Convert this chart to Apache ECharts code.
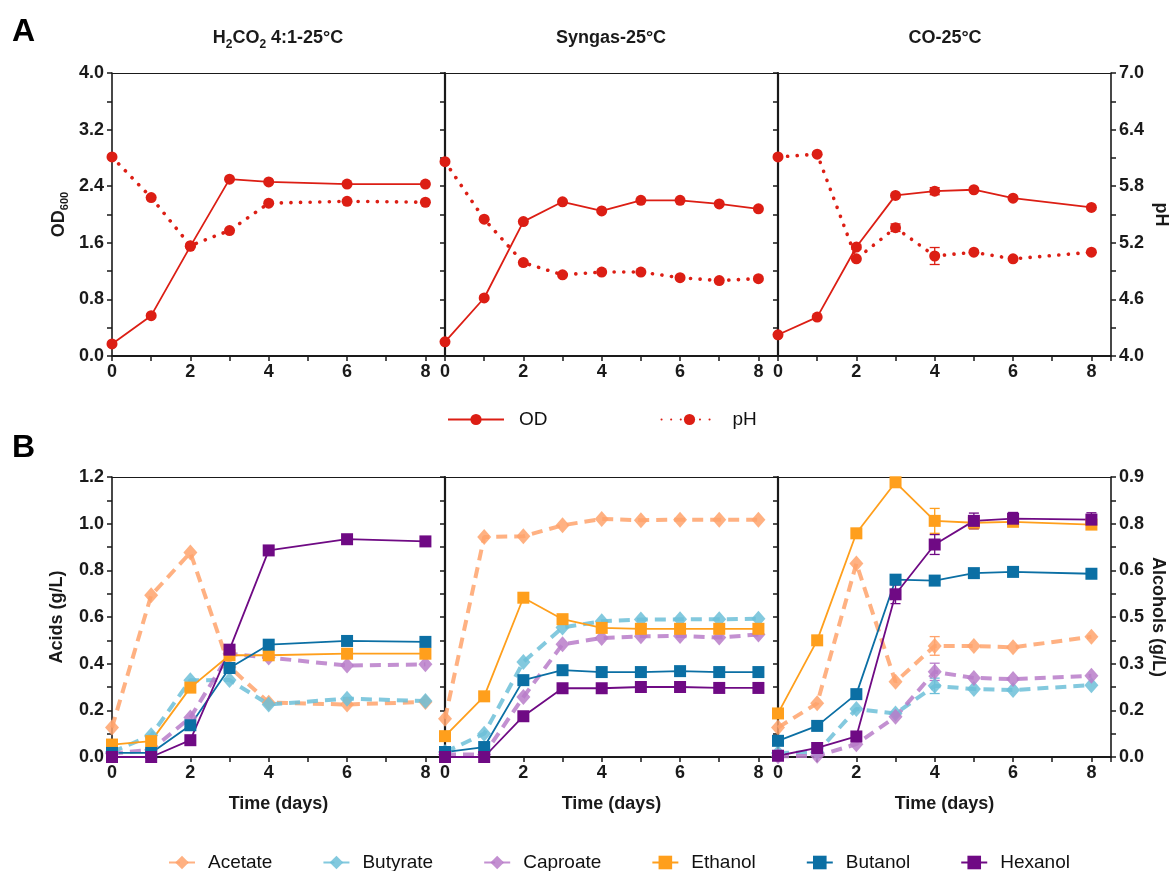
<!DOCTYPE html>
<html><head><meta charset="utf-8">
<script src="https://cdn.jsdelivr.net/npm/echarts@6/dist/echarts.min.js"></script>
<style>html,body{margin:0;padding:0;background:#fff;overflow:hidden}#c{width:1171px;height:871px}</style>
</head><body><div id="c"></div>
<script>
// ---------- DATA ----------
const daysH2 = [0,1,2,3,4,6,8];
const daysSyn = [0,1,2,3,4,5,6,7,8];
const daysCO = [0,1,2,3,4,5,6,8];

const panelTitles = ['H2CO2 4:1-25°C', 'Syngas-25°C', 'CO-25°C'];
const odTicks = [0, 0.8, 1.6, 2.4, 3.2, 4.0];
const phTicks = [4.0, 4.6, 5.2, 5.8, 6.4, 7.0];

// Panel A
const odH2 = [0.17, 0.57, 1.55, 2.50, 2.46, 2.43, 2.43];
const phH2 = [6.11, 5.68, 5.17, 5.33, 5.62, 5.64, 5.63];
const odSyn = [0.20, 0.82, 1.90, 2.18, 2.05, 2.20, 2.20, 2.15, 2.08];
const phSyn = [6.06, 5.45, 4.99, 4.86, 4.89, 4.89, 4.83, 4.80, 4.82];
const odCO = [0.30, 0.55, 1.54, 2.27, 2.33, 2.35, 2.23, 2.10];
const phCO = [6.11, 6.14, 5.03, 5.36, 5.06, 5.10, 5.03, 5.10];
const errOdCO = [0, 0, 0.03, 0, 0.05, 0, 0, 0];
const errPhCO = [0, 0, 0, 0.04, 0.09, 0, 0, 0];

// Panel B - acids (g/L, left axis)
const acetateH2 = [0.126, 0.693, 0.876, 0.386, 0.233, 0.225, 0.236];
const butyrateH2 = [0.021, 0.093, 0.329, 0.330, 0.225, 0.250, 0.240];
const caproateH2 = [0.015, 0.031, 0.169, 0.443, 0.426, 0.392, 0.397];
const acetateSyn = [0.164, 0.943, 0.946, 0.993, 1.020, 1.015, 1.017, 1.017, 1.017];
const butyrateSyn = [0.021, 0.100, 0.407, 0.555, 0.582, 0.589, 0.590, 0.590, 0.593];
const caproateSyn = [0.011, 0.011, 0.257, 0.483, 0.510, 0.517, 0.519, 0.512, 0.525];
const acetateCO = [0.126, 0.230, 0.829, 0.322, 0.476, 0.476, 0.470, 0.515];
const butyrateCO = [0.017, 0.020, 0.206, 0.186, 0.305, 0.291, 0.287, 0.308];
const caproateCO = [0.003, 0.005, 0.055, 0.172, 0.365, 0.339, 0.334, 0.348];
// Panel B - alcohols (g/L, right axis)
const ethanolH2 = [0.040, 0.051, 0.223, 0.327, 0.327, 0.332, 0.332];
const butanolH2 = [0.013, 0.013, 0.102, 0.286, 0.361, 0.373, 0.370];
const hexanolH2 = [0.000, 0.000, 0.054, 0.345, 0.664, 0.700, 0.693];
const ethanolSyn = [0.067, 0.195, 0.512, 0.443, 0.415, 0.412, 0.412, 0.412, 0.412];
const butanolSyn = [0.016, 0.032, 0.247, 0.279, 0.273, 0.273, 0.276, 0.273, 0.273];
const hexanolSyn = [0.000, 0.000, 0.131, 0.221, 0.221, 0.225, 0.225, 0.222, 0.222];
const ethanolCO = [0.140, 0.375, 0.719, 0.883, 0.759, 0.753, 0.756, 0.747];
const butanolCO = [0.052, 0.100, 0.202, 0.570, 0.567, 0.591, 0.595, 0.589];
const hexanolCO = [0.004, 0.029, 0.066, 0.523, 0.683, 0.759, 0.766, 0.763];
// error bars (SD)
const errHexH2 = [0, 0, 0, 0, 0, 0.010, 0.011];
const errAceCO = [0, 0, 0, 0, 0.040, 0, 0, 0];
const errButyCO = [0, 0, 0, 0, 0.033, 0, 0, 0];
const errCapCO = [0, 0, 0, 0, 0.037, 0, 0, 0];
const errEthCO = [0, 0, 0, 0, 0.040, 0.020, 0.015, 0.015];
const errButCO = [0, 0, 0, 0.010, 0.012, 0.010, 0, 0.008];
const errHexCO = [0, 0, 0, 0.030, 0.032, 0.025, 0.020, 0.022];

// ---------- STYLE ----------
const FF = 'Liberation Sans, Arial, sans-serif';
const INK = '#1a1a1a';
const RED = '#dc1e14';
const C = {Acetate:'#ffa36c', Butyrate:'#6dbfd8', Caproate:'#b97cc9', Ethanol:'#ff9f1c', Butanol:'#0b6fa4', Hexanol:'#6f0a84'};

const pair = (d, v) => d.map((x, i) => [x, v[i]]);

function renderErr(params, api) {
  const x = api.value(0), lo = api.value(1), hi = api.value(2);
  const p1 = api.coord([x, lo]), p2 = api.coord([x, hi]);
  const w = 5;
  const st = {stroke: api.visual('color'), lineWidth: 1.3};
  return {type:'group', children:[
    {type:'line', shape:{x1:p1[0], y1:p1[1], x2:p2[0], y2:p2[1]}, style: st},
    {type:'line', shape:{x1:p1[0]-w, y1:p1[1], x2:p1[0]+w, y2:p1[1]}, style: st},
    {type:'line', shape:{x1:p2[0]-w, y1:p2[1], x2:p2[0]+w, y2:p2[1]}, style: st}
  ]};
}
function errSeries(days, vals, errs, xi, yi, color) {
  const data = [];
  days.forEach((d, i) => { if (errs[i] > 0) data.push([d, vals[i]-errs[i], vals[i]+errs[i]]); });
  return {type:'custom', name:'err', silent:true, xAxisIndex:xi, yAxisIndex:yi, renderItem:renderErr,
    itemStyle:{color}, data, encode:{x:0, y:[1,2]}, z:3, clip:false};
}

const grids = [], xAxes = [], yAxes = [];
const lefts = [112, 445, 778];
const tickLbl = {color: INK, fontWeight:'bold', fontSize:18, fontFamily: FF};
const nameStyle = {color: INK, fontWeight:'bold', fontSize:18, fontFamily: FF};

for (let r = 0; r < 2; r++) for (let c = 0; c < 3; c++) {
  const g = r*3 + c;
  grids.push({left: lefts[c], width: 333, top: r ? 477 : 73, height: r ? 280 : 283,
    containLabel:false, outerBoundsMode:'none'});
  xAxes.push({type:'value', gridIndex:g, min:0, max:8.5, interval:1, position:'bottom',
    axisLine:{show:true, onZero:false, lineStyle:{color:INK, width:2}},
    axisTick:{show:true, length:5, lineStyle:{color:INK, width:1.5}},
    axisLabel:{...tickLbl, margin:7, formatter: v => (v % 2 === 0 && v <= 8) ? String(v) : ''},
    splitLine:{show:false},
    name: r ? 'Time (days)' : '', nameLocation:'middle', nameGap:38, nameTextStyle:nameStyle});
  xAxes.push({type:'value', gridIndex:g, min:0, max:8.5, position:'top',
    axisLine:{show:true, onZero:false, lineStyle:{color:INK, width:1.2}},
    axisTick:{show:false}, axisLabel:{show:false}, splitLine:{show:false}});
  const leftAxis = {type:'value', gridIndex:g, position:'left', min:0,
    max: r ? 1.2 : 4, interval: r ? 0.2 : 0.8,
    axisLine:{show:true, onZero:false, lineStyle:{color:INK, width: c === 0 ? 1.6 : 2.2}},
    axisTick:{show:true, length:5, lineStyle:{color:INK, width:1.5}},
    minorTick:{show:true, splitNumber:2, length:5, lineStyle:{color:INK, width:1.5}},
    axisLabel:{show: c === 0, ...tickLbl, margin:8, formatter: v => v.toFixed(1)},
    splitLine:{show:false}, minorSplitLine:{show:false}};
  if (c === 0) {
    leftAxis.name = r ? 'Acids (g/L)' : '{a|OD}{s|600}';
    leftAxis.nameLocation = 'middle';
    leftAxis.nameGap = r ? 46 : 44;
    leftAxis.nameTextStyle = r ? nameStyle : {...nameStyle, rich:{
      a:{...nameStyle, fontSize:18, lineHeight:18, verticalAlign:'top'},
      s:{...nameStyle, fontSize:11, lineHeight:11, padding:[9,0,0,0], verticalAlign:'top'}}};
  }
  yAxes.push(leftAxis);
  let rightAxis;
  if (r === 0) {
    rightAxis = {type:'value', gridIndex:g, position:'right', min:4, max:7, show: c === 2,
      axisLine:{show:true, onZero:false, lineStyle:{color:INK, width:1.6}},
      axisTick:{show:true, length:5, lineStyle:{color:INK, width:1.5},
        customValues:[4,4.3,4.6,4.9,5.2,5.5,5.8,6.1,6.4,6.7,7]},
      axisLabel:{...tickLbl, margin:8, customValues: phTicks, formatter: v => v.toFixed(1)},
      splitLine:{show:false},
      name:'pH', nameLocation:'middle', nameGap:41, nameRotate:-90, nameTextStyle:nameStyle};
  } else {
    rightAxis = {type:'value', gridIndex:g, position:'right', min:0, max:0.9, interval:0.15, show: c === 2,
      axisLine:{show:true, onZero:false, lineStyle:{color:INK, width:1.6}},
      axisTick:{show:true, length:5, lineStyle:{color:INK, width:1.5}},
      minorTick:{show:true, splitNumber:2, length:5, lineStyle:{color:INK, width:1.5}},
      axisLabel:{...tickLbl, margin:8, formatter: v => (Math.round(v*10 + 1e-6)/10).toFixed(1)},
      splitLine:{show:false}, minorSplitLine:{show:false},
      name:'Alcohols (g/L)', nameLocation:'middle', nameGap:38, nameRotate:-90, nameTextStyle:nameStyle};
  }
  yAxes.push(rightAxis);
}

const series = [];
const A = [[daysH2, odH2, phH2], [daysSyn, odSyn, phSyn], [daysCO, odCO, phCO]];
A.forEach(([d, od, ph], g) => {
  series.push({type:'line', name:'OD', xAxisIndex:2*g, yAxisIndex:2*g, data:pair(d, od), clip:false,
    symbol:'circle', symbolSize:11, lineStyle:{color:RED, width:1.8}, itemStyle:{color:RED}});
  series.push({type:'line', name:'pH', xAxisIndex:2*g, yAxisIndex:2*g+1, data:pair(d, ph), clip:false,
    symbol:'circle', symbolSize:11, lineStyle:{color:RED, width:3.6, type:[0.1, 9.5], cap:'round'}, itemStyle:{color:RED}});
});
series.push(errSeries(daysCO, odCO, errOdCO, 4, 4, RED));
series.push(errSeries(daysCO, phCO, errPhCO, 4, 5, RED));

const B = [
  [daysH2, acetateH2, butyrateH2, caproateH2, ethanolH2, butanolH2, hexanolH2],
  [daysSyn, acetateSyn, butyrateSyn, caproateSyn, ethanolSyn, butanolSyn, hexanolSyn],
  [daysCO, acetateCO, butyrateCO, caproateCO, ethanolCO, butanolCO, hexanolCO]];
B.forEach(([d, ace, buty, cap, eth, but, hex], k) => {
  const g = 3 + k;
  [['Acetate', ace], ['Butyrate', buty], ['Caproate', cap]].forEach(([n, v]) => {
    series.push({type:'line', name:n, xAxisIndex:2*g, yAxisIndex:2*g, data:pair(d, v), clip:false,
      symbol:'diamond', symbolSize:[14, 16],
      lineStyle:{color:C[n], width:4, type:[11, 7], opacity:0.85},
      itemStyle:{color:C[n], opacity:0.85}});
  });
  [['Ethanol', eth], ['Butanol', but], ['Hexanol', hex]].forEach(([n, v]) => {
    series.push({type:'line', name:n, xAxisIndex:2*g, yAxisIndex:2*g+1, data:pair(d, v), clip:false,
      symbol:'rect', symbolSize:12, lineStyle:{color:C[n], width:1.8}, itemStyle:{color:C[n]}});
  });
});
series.push(errSeries(daysH2, hexanolH2, errHexH2, 6, 7, C.Hexanol));
series.push(errSeries(daysCO, acetateCO, errAceCO, 10, 10, C.Acetate));
series.push(errSeries(daysCO, butyrateCO, errButyCO, 10, 10, C.Butyrate));
series.push(errSeries(daysCO, caproateCO, errCapCO, 10, 10, C.Caproate));
series.push(errSeries(daysCO, ethanolCO, errEthCO, 10, 11, C.Ethanol));
series.push(errSeries(daysCO, butanolCO, errButCO, 10, 11, C.Butanol));
series.push(errSeries(daysCO, hexanolCO, errHexCO, 10, 11, C.Hexanol));

const titleRich = {
  a:{fontFamily:FF, fontWeight:'bold', fontSize:18, fill:INK, lineHeight:20, verticalAlign:'top'},
  s:{fontFamily:FF, fontWeight:'bold', fontSize:12, fill:INK, lineHeight:12, padding:[10,0,0,0], verticalAlign:'top'}
};
const titleTexts = ['{a|H}{s|2}{a|CO}{s|2}{a| 4:1-25°C}', '{a|' + panelTitles[1] + '}', '{a|' + panelTitles[2] + '}'];
const titleCenters = [278, 611, 945];
const graphic = titleTexts.map((t, i) => ({type:'text', x: titleCenters[i], y: 39,
  style:{text:t, rich:titleRich, align:'center', verticalAlign:'middle', textAlign:'center', textVerticalAlign:'middle'}}));
graphic.push({type:'text', x:12, y:16, style:{text:'A', fontFamily:FF, fontWeight:'bold', fontSize:32, fill:'#000'}});
graphic.push({type:'text', x:12, y:432, style:{text:'B', fontFamily:FF, fontWeight:'bold', fontSize:32, fill:'#000'}});

const option = {
  backgroundColor:'#fff', animation:false,
  textStyle:{fontFamily:FF},
  grid: grids, xAxis: xAxes, yAxis: yAxes, series, graphic,
  legend:[
    {data:['OD','pH'], left:447, top:410, padding:0, itemWidth:56, itemHeight:14, itemGap:113,
      textStyle:{fontFamily:FF, fontSize:19, color:'#111', padding:[0,0,0,10]}},
    {data:['Acetate','Butyrate','Caproate','Ethanol','Butanol','Hexanol'], left:168, top:853, padding:0,
      itemWidth:26, itemHeight:17, itemGap:50, textStyle:{fontFamily:FF, fontSize:19, color:'#111', padding:[0,0,0,8]}}
  ]
};
const chart = echarts.init(document.getElementById('c'));
chart.setOption(option);
</script></body></html>
